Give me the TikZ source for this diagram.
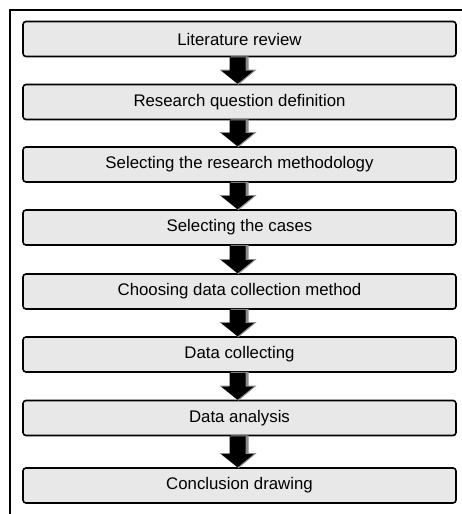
\documentclass[tikz,border=0pt]{standalone}
\usepackage{fontspec}
\setmainfont{Liberation Sans}
\begin{document}
\begin{tikzpicture}[x=1pt,y=-1pt,
  stepbox/.style={draw=black,line width=1.6pt,fill=boxgray,rounded corners=3pt,
    minimum width=433pt,minimum height=35pt,inner sep=0pt,
    font=\fontsize{16.8}{18}\selectfont}]
\definecolor{boxgray}{HTML}{E8E8E8}
\definecolor{shadowgray}{HTML}{8C8C8C}
\useasboundingbox (0,0) rectangle (462,514);
% open frame along the left and top
\draw[line width=1.8pt] (10,514) -- (10,10) -- (462,10);
% process steps
\node[stepbox] (s1) at (239.5,39) {Literature review};
\node[stepbox] (s2) at (239.5,102) {Research question definition};
\node[stepbox] (s3) at (239.5,164.5) {Selecting the research methodology};
\node[stepbox] (s4) at (239.5,227.5) {Selecting the cases};
\node[stepbox] (s5) at (239.5,291.5) {Choosing data collection method};
\node[stepbox] (s6) at (239.5,354.5) {Data collecting};
\node[stepbox] (s7) at (239.5,418) {Data analysis};
\node[stepbox] (s8) at (239.5,485.5) {Conclusion drawing};
% block arrows with a grey drop shadow between consecutive steps
\foreach \a/\b in {s1/s2,s2/s3,s3/s4,s4/s5,s5/s6,s6/s7,s7/s8}{
  \path ([xshift=-2pt]\a.south) coordinate (top) ([xshift=-2pt]\b.north) coordinate (tip);
  \fill[shadowgray] ([xshift=-7pt,yshift=1pt]top) -- ([xshift=11pt,yshift=1pt]top)
    -- ([xshift=11pt,yshift=14pt]tip) -- ([xshift=19pt,yshift=14pt]tip)
    -- ([xshift=1pt,yshift=-1pt]tip) -- ([xshift=-18pt,yshift=14pt]tip)
    -- ([xshift=-7pt,yshift=14pt]tip) -- cycle;
  \fill[black] ([xshift=-8pt]top) -- ([xshift=8pt]top)
    -- ([xshift=8pt,yshift=13pt]tip) -- ([xshift=16pt,yshift=13pt]tip)
    -- (tip) -- ([xshift=-16pt,yshift=13pt]tip)
    -- ([xshift=-8pt,yshift=13pt]tip) -- cycle;
}
\end{tikzpicture}
\end{document}
